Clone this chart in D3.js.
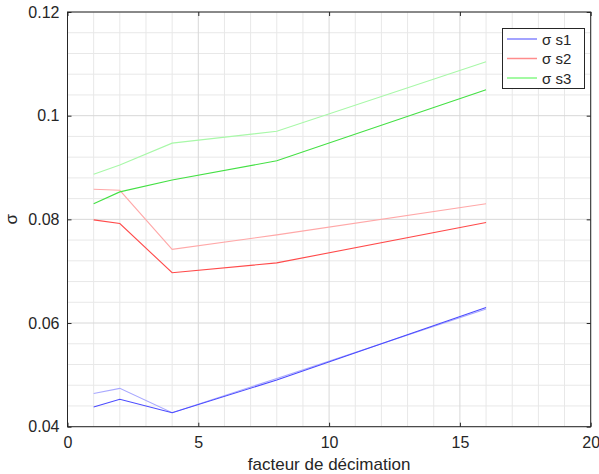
<!DOCTYPE html>
<html><head><meta charset="utf-8">
<script src="https://cdn.jsdelivr.net/npm/d3@7"></script>
<style>body{margin:0;background:#fff;} svg{display:block;font-family:"Liberation Sans",Arial,sans-serif;}</style>
</head><body>
<svg id="c" width="599" height="474"></svg>
<script>
const xValues = [1, 2, 4, 8, 16];
const s1Dark  = [0.0438, 0.0453, 0.0427, 0.0490, 0.0630];
const s1Light = [0.0464, 0.0474, 0.0427, 0.0493, 0.0627];
const s2Dark  = [0.0799, 0.0792, 0.0697, 0.0716, 0.0794];
const s2Light = [0.0858, 0.0856, 0.0742, 0.0770, 0.0830];
const s3Dark  = [0.0830, 0.0853, 0.0876, 0.0913, 0.1050];
const s3Light = [0.0887, 0.0905, 0.0947, 0.0970, 0.1104];
const xTicks = [0, 5, 10, 15, 20];
const yTicks = [0.04, 0.06, 0.08, 0.1, 0.12];
const yTickLabels = ["0.04", "0.06", "0.08", "0.1", "0.12"];
const legendLabels = ["σ s1", "σ s2", "σ s3"];
const xLabel = "facteur de décimation";
const yLabel = "σ";

const svg = d3.select("#c");
const L = 67.5, R = 590.7, T = 12, B = 426.7;
const x = d3.scaleLinear().domain([0, 20]).range([L, R]);
const y = d3.scaleLinear().domain([0.04, 0.12]).range([B, T]);

const g = svg.append("g");
// minor grid
const xMinor = d3.range(0, 21, 1).filter(v => v % 5 !== 0);
const yMinor = d3.range(0, 21).map(i => 0.04 + i * 0.004).filter((v, i) => i % 5 !== 0);
g.selectAll(".xm").data(xMinor).join("line")
  .attr("x1", d => x(d)).attr("x2", d => x(d)).attr("y1", T).attr("y2", B)
  .attr("stroke", "#e8e8e8").attr("stroke-width", 1);
g.selectAll(".ym").data(yMinor).join("line")
  .attr("y1", d => y(d)).attr("y2", d => y(d)).attr("x1", L).attr("x2", R)
  .attr("stroke", "#e8e8e8").attr("stroke-width", 1);
// major grid
g.selectAll(".xM").data(xTicks).join("line")
  .attr("x1", d => x(d)).attr("x2", d => x(d)).attr("y1", T).attr("y2", B)
  .attr("stroke", "#d8d8d8").attr("stroke-width", 1);
g.selectAll(".yM").data(yTicks).join("line")
  .attr("y1", d => y(d)).attr("y2", d => y(d)).attr("x1", L).attr("x2", R)
  .attr("stroke", "#d8d8d8").attr("stroke-width", 1);

// lines
const line = d3.line().x((d, i) => x(xValues[i])).y(d => y(d));
const series = [
  {v: s1Light, c: "#a8a8ff"}, {v: s2Light, c: "#ffa8a8"}, {v: s3Light, c: "#a8f8a8"},
  {v: s1Dark, c: "#4a4aff"}, {v: s2Dark, c: "#ff4a4a"}, {v: s3Dark, c: "#44e044"}
];
series.forEach(s => {
  svg.append("path").attr("d", line(s.v)).attr("fill", "none")
    .attr("stroke", s.c).attr("stroke-width", 1.1);
});

// axes box
const ax = svg.append("g");
ax.append("rect").attr("x", L).attr("y", T).attr("width", R - L).attr("height", B - T)
  .attr("fill", "none").attr("stroke", "#262626").attr("stroke-width", 1);
const bottomAxis = d3.axisBottom(x).tickValues(xTicks).tickSize(-4).tickPadding(10).tickFormat(d3.format("d"));
const leftAxis = d3.axisLeft(y).tickValues(yTicks).tickSize(-4).tickPadding(8).tickFormat((d, i) => yTickLabels[i]);
const topAxis = d3.axisTop(x).tickValues(xTicks).tickSize(-4).tickFormat("");
const rightAxis = d3.axisRight(y).tickValues(yTicks).tickSize(-4).tickFormat("");
[[bottomAxis, `translate(0,${B})`], [leftAxis, `translate(${L},0)`], [topAxis, `translate(0,${T})`], [rightAxis, `translate(${R},0)`]].forEach(([a, t]) => {
  const gg = svg.append("g").attr("transform", t).call(a);
  gg.select(".domain").remove();
  gg.selectAll("line").attr("stroke", "#262626");
  gg.selectAll("text").attr("fill", "#262626").style("font-size", "16px").style("font-family", "'Liberation Sans', Arial, sans-serif");
});

// labels
svg.append("text").attr("x", x(10)).attr("y", 470).attr("text-anchor", "middle")
  .attr("fill", "#262626").style("font-size", "17px").text(xLabel);
svg.append("text").attr("transform", `translate(17,${(T + B) / 2}) rotate(-90)`).attr("text-anchor", "middle")
  .attr("fill", "#262626").style("font-size", "17px").text(yLabel);

// legend
const lg = svg.append("g");
lg.append("rect").attr("x", 502.5).attr("y", 28.5).attr("width", 82).attr("height", 60)
  .attr("fill", "#fff").attr("stroke", "#262626").attr("stroke-width", 1);
const legColors = ["#8484ff", "#ff8c8c", "#84f884"];
legendLabels.forEach((lab, i) => {
  const yy = 39 + i * 19.5;
  lg.append("line").attr("x1", 507).attr("x2", 537).attr("y1", yy).attr("y2", yy)
    .attr("stroke", legColors[i]).attr("stroke-width", 1.5);
  lg.append("text").attr("x", 542).attr("y", yy + 5.5).attr("fill", "#262626")
    .style("font-size", "15px").text(lab);
});
</script>
</body></html>
